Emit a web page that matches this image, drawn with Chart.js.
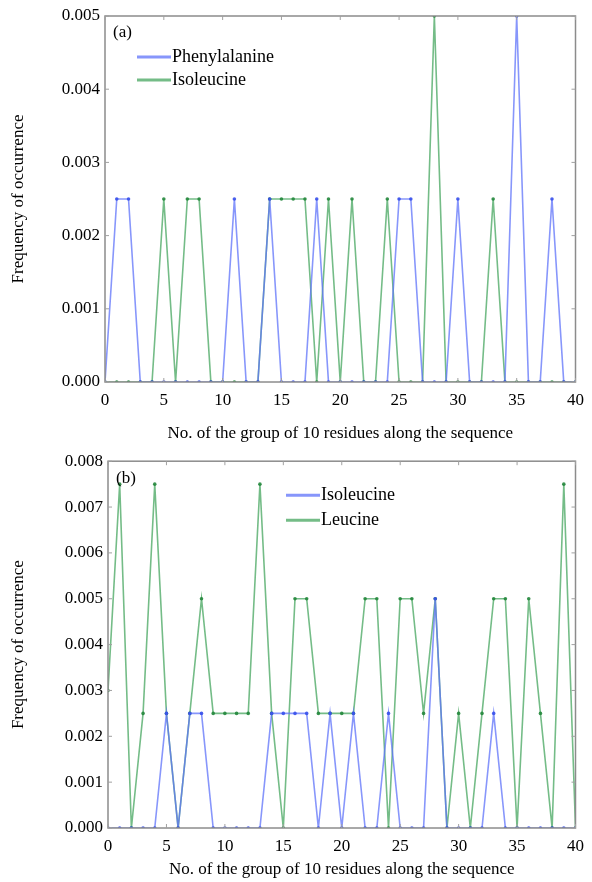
<!DOCTYPE html>
<html>
<head>
<meta charset="utf-8">
<script src="https://cdn.jsdelivr.net/npm/chart.js@4.4.1/dist/chart.umd.min.js"></script>
<style>
  html, body { margin: 0; padding: 0; background: #fff; }
  #wrapA { position: absolute; left: 0; top: 0; width: 592px; height: 446px; }
  #wrapB { position: absolute; left: 0; top: 446px; width: 592px; height: 436px; }
</style>
</head>
<body>
<div id="wrapA"><canvas id="chartA"></canvas></div>
<div id="wrapB"><canvas id="chartB"></canvas></div>
<script>
// group index along the sequence (0..40)
const groups = [0,1,2,3,4,5,6,7,8,9,10,11,12,13,14,15,16,17,18,19,20,
  21,22,23,24,25,26,27,28,29,30,31,32,33,34,35,36,37,38,39,40];

// (a) frequencies
const pheA = [0,0.0025,0.0025,0,0,0,0,0,0,0,0,0.0025,0,0,0.0025,0,0,0,0.0025,0,0,
  0,0,0,0,0.0025,0.0025,0,0,0,0.0025,0,0,0,0,0.005,0,0,0.0025,0,0];
const ileA = [0,0,0,0,0,0.0025,0,0.0025,0.0025,0,0,0,0,0,0.0025,0.0025,0.0025,0.0025,0,0.0025,0,
  0.0025,0,0,0.0025,0,0,0,0.005,0,0,0,0,0.0025,0,0,0,0,0,0,0];

// (b) frequencies
const ileB = [0,0,0,0,0,0.0025,0,0.0025,0.0025,0,0,0,0,0,0.0025,0.0025,0.0025,0.0025,0,0.0025,0,
  0.0025,0,0,0.0025,0,0,0,0.005,0,0,0,0,0.0025,0,0,0,0,0,0,0];
const leuB = [0.003,0.0075,0,0.0025,0.0075,0.0025,0,0.0025,0.005,0.0025,0.0025,0.0025,0.0025,0.0075,0.0025,0,0.005,0.005,0.0025,0.0025,0.0025,
  0.0025,0.005,0.005,0,0.005,0.005,0.0025,0.005,0,0.0025,0,0.0025,0.005,0.005,0,0.005,0.0025,0,0.0075,0];

const xTitle = "No. of the group of 10 residues along the sequence";
const yTitle = "Frequency of occurrence";
const serif = "'Liberation Serif', 'Times New Roman', serif";

const blue = { line: "rgba(95,115,250,0.75)", dot: "rgba(55,80,235,0.9)" };
const green = { line: "rgba(70,165,95,0.75)", dot: "rgba(35,135,60,0.9)" };

function toPoints(vals) {
  return groups.map((g, i) => ({ x: g, y: vals[i] }));
}

function makeSet(label, vals, col) {
  return {
    label: label,
    data: toPoints(vals),
    borderColor: col.line,
    backgroundColor: col.dot,
    pointBackgroundColor: col.dot,
    pointBorderWidth: 0,
    pointRadius: 1.8,
    borderWidth: 1.6,
    tension: 0,
    fill: false
  };
}

// frame + inward tick marks + panel tag + legend inside plot
const framePlugin = {
  id: "frame",
  afterDatasetsDraw(chart, args, opts) {
    const ctx = chart.ctx;
    const a = chart.chartArea;
    const xs = chart.scales.x, ys = chart.scales.y;
    ctx.save();
    ctx.strokeStyle = "#8c8c8c";
    ctx.lineWidth = 1.5;
    ctx.strokeRect(a.left, a.top, a.right - a.left, a.bottom - a.top);
    ctx.lineWidth = 1;
    ctx.strokeStyle = "#a0a0a0";
    xs.ticks.forEach(t => {
      const px = xs.getPixelForValue(t.value);
      ctx.beginPath();
      ctx.moveTo(px, a.bottom); ctx.lineTo(px, a.bottom - 4);
      ctx.moveTo(px, a.top); ctx.lineTo(px, a.top + 4);
      ctx.stroke();
    });
    ys.ticks.forEach(t => {
      const py = ys.getPixelForValue(t.value);
      ctx.beginPath();
      ctx.moveTo(a.left, py); ctx.lineTo(a.left + 4, py);
      ctx.moveTo(a.right, py); ctx.lineTo(a.right - 4, py);
      ctx.stroke();
    });

    ctx.fillStyle = "#000";
    ctx.font = "17px " + serif;
    ctx.textBaseline = "middle";
    ctx.textAlign = "left";
    ctx.fillText(opts.tag, a.left + 8, a.top + 17);

    // legend
    ctx.font = "18px " + serif;
    chart.data.datasets.forEach((ds, i) => {
      const y = a.top + opts.legY + i * opts.legGap;
      ctx.strokeStyle = ds.borderColor;
      ctx.lineWidth = 3;
      ctx.beginPath();
      ctx.moveTo(a.left + opts.legX, y);
      ctx.lineTo(a.left + opts.legX + 34, y);
      ctx.stroke();
      ctx.fillStyle = "#000";
      ctx.fillText(ds.label, a.left + opts.legX + 35, y);
    });
    ctx.restore();
  }
};

function makeChart(id, sets, yMax, pad, yWidth, xHeight, frameOpts) {
  return new Chart(document.getElementById(id), {
    type: "line",
    data: { datasets: sets },
    plugins: [framePlugin],
    options: {
      responsive: true,
      maintainAspectRatio: false,
      animation: false,
      layout: { padding: pad },
      plugins: {
        legend: { display: false },
        tooltip: { enabled: false },
        frame: frameOpts
      },
      scales: {
        x: {
          type: "linear",
          min: 0, max: 40,
          grid: { display: false, drawTicks: false },
          border: { display: false },
          ticks: { stepSize: 5, padding: 8, color: "#000", font: { family: serif, size: 17 } },
          title: { display: true, text: xTitle, color: "#000", font: { family: serif, size: 17 }, padding: { top: 4, bottom: 2 } },
          afterFit(s) { s.height = xHeight; }
        },
        y: {
          min: 0, max: yMax,
          grid: { display: false, drawTicks: false },
          border: { display: false },
          ticks: {
            stepSize: 0.001, padding: 5, color: "#000",
            font: { family: serif, size: 17 },
            callback: v => v.toFixed(3)
          },
          title: { display: true, text: yTitle, color: "#000", font: { family: serif, size: 17 }, padding: { top: 8, bottom: 0 } },
          afterFit(s) { s.width = yWidth; }
        }
      }
    }
  });
}

makeChart("chartA",
  [makeSet("Phenylalanine", pheA, blue), makeSet("Isoleucine", ileA, green)],
  0.005, { top: 16, right: 9, left: 0, bottom: 0 }, 105, 64,
  { tag: "(a)", legX: 32, legY: 41, legGap: 23 });

makeChart("chartB",
  [makeSet("Isoleucine", ileB, blue), makeSet("Leucine", leuB, green)],
  0.008, { top: 14, right: 9, left: 0, bottom: 0 }, 108, 54,
  { tag: "(b)", legX: 178, legY: 34, legGap: 25 });
</script>
</body>
</html>
